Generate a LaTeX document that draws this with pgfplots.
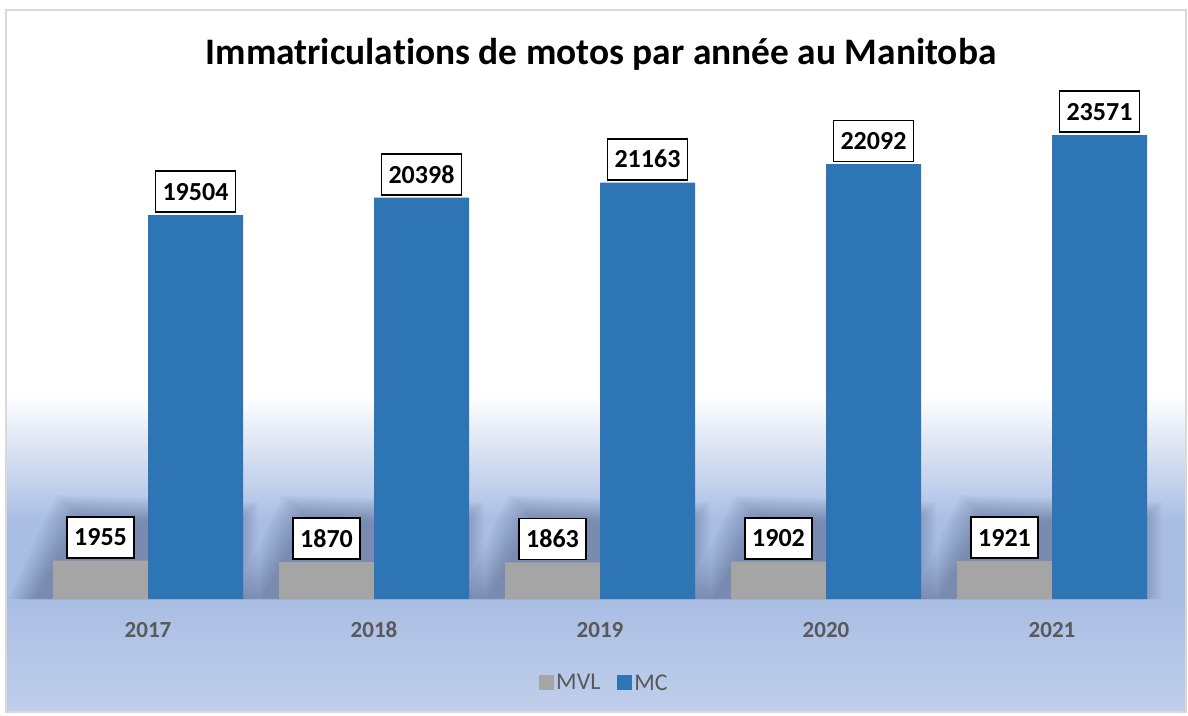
\documentclass[border=0pt]{standalone}
\usepackage{fontspec}
\setmainfont{Carlito}[Ligatures=NoCommon]
\usepackage{pgfplots}
\pgfplotsset{compat=1.18}
\definecolor{mvl}{HTML}{A5A5A5}
\definecolor{mc}{HTML}{2E75B6}
\definecolor{txtgrey}{HTML}{595959}
\definecolor{bgbot}{RGB}{191,206,235}
\definecolor{bgmid}{RGB}{170,190,228}
\definecolor{shadowc}{RGB}{40,55,90}
\definecolor{frame}{HTML}{D9D9D9}
\pgfdeclareverticalshading{chartbg}{100bp}{color(0bp)=(bgbot); color(25bp)=(bgbot); color(33bp)=(bgmid); color(38.7bp)=(bgmid); color(47.6bp)=(white); color(100bp)=(white)}
\pgfplotstableread{
x MVL MC
0 1955 19504
1 1870 20398
2 1863 21163
3 1902 22092
4 1921 23571
}\datatable
\begin{document}
\begin{tikzpicture}[x=1pt,y=1pt]
\useasboundingbox (0,0) rectangle (1188,715);
\shade[shading=chartbg] (6,3) rectangle (1186,705);
\draw[frame, line width=1.5pt] (6,3) rectangle (1186,705);
\node[anchor=base, font=\bfseries\fontsize{37.4}{42}\selectfont] at (601,650) {Immatriculations de motos par année au Manitoba};
% soft perspective shadows behind each group
\begin{scope}
\clip (0,116) rectangle (1167,715);
\foreach \c in {148,374,600,826,1052}{
  \foreach \i in {-8,-6,...,16}{
    \fill[shadowc, fill opacity=0.03] (\c-131+1.1*\i,116) -- (\c-83+1.1*\i,212-\i) -- (\c+102-\i,205-\i) -- (\c+102-\i,116) -- cycle;
  }
}
\end{scope}
\begin{axis}[
  at={(35pt,116pt)}, anchor=south west,
  scale only axis, width=1130pt, height=492pt,
  ybar=0pt, bar width=95pt,
  xmin=-0.5, xmax=4.5, ymin=0, ymax=25000,
  clip=false,
  axis line style={draw=none},
  ytick=\empty,
  xtick={0,1,2,3,4},
  xticklabels={2017,2018,2019,2020,2021},
  major tick length=0pt,
  tick style={draw=none},
  xticklabel style={font=\bfseries\fontsize{23}{28}\selectfont, text=txtgrey, anchor=base, yshift=-38pt},
  /pgf/number format/.cd, 1000 sep={}, assume math mode=true, /pgfplots/.cd,
  nodes near coords,
  every node near coord/.append style={draw=black, line width=1.7pt, fill=white,
     font=\bfseries\fontsize{26}{30}\selectfont, text=black, inner xsep=7pt,
     minimum height=41pt, anchor=south, yshift=2pt},
  legend style={at={(0.504,-0.1707)}, anchor=center, draw=none, fill=none,
     legend columns=2, font=\fontsize{24}{28}\selectfont, text=txtgrey,
     /tikz/every even column/.append style={column sep=15pt}},
  legend image code/.code={\fill[#1] (0pt,-7.5pt) rectangle (15pt,7.5pt);},
]
\addplot[fill=mvl, draw=none] table[x=x, y=MVL] {\datatable};
\addlegendentry{MVL}
\addplot[fill=mc, draw=none] table[x=x, y=MC] {\datatable};
\addlegendentry{MC}
\end{axis}
\end{tikzpicture}
\end{document}
